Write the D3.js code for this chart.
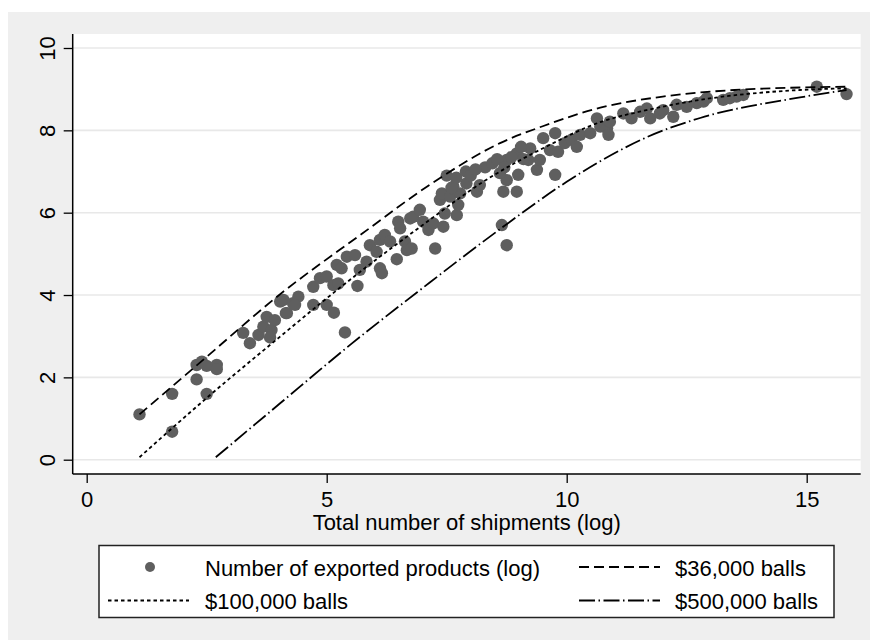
<!DOCTYPE html>
<html>
<head>
<meta charset="utf-8">
<script src="https://cdn.jsdelivr.net/npm/d3@7"></script>
<style>
  body { margin: 0; background: #fff; }
  text { font-family: "Liberation Sans", Arial, sans-serif; fill: #000; }
</style>
</head>
<body>
<div id="chart"></div>
<script>
var width = 870,
	height = 640;

// scatter: total shipments (log) vs exported products (log)
var shipments = [1.1, 1.78, 1.78, 2.29, 2.29, 2.4, 2.5, 2.5, 2.71, 2.71,
	3.26, 3.4, 3.58, 3.68, 3.75, 3.85, 3.82, 3.92, 4.1, 4.15, 4.3, 4.41,
	4.03, 4.17, 4.34, 4.72, 4.86, 5.0, 5.14, 5.24, 4.72, 5.0, 5.15, 5.38,
	5.21, 5.31, 5.42, 5.59, 5.69, 5.64, 5.83, 5.9, 6.11, 6.21, 6.11, 6.15,
	6.04, 6.32, 6.46, 6.49, 6.53, 6.63, 6.67, 6.77, 6.74, 6.8, 6.94, 7.01,
	7.12, 7.22, 7.26, 7.36, 7.4, 7.46, 7.43, 7.57, 7.71, 7.74, 7.78, 7.64,
	7.91, 8.13, 8.19, 8.68, 8.96, 8.65, 8.75, 8.75, 8.61, 8.99, 8.75, 8.96,
	9.24, 9.2, 9.38, 9.44, 9.51, 9.76, 9.65, 9.82, 9.76, 9.96, 10.1, 10.21,
	10.28, 10.49, 10.63, 10.7, 10.84, 10.87, 10.9, 11.18, 11.35, 11.53, 11.67,
	11.74, 11.94, 12.01, 12.22, 12.29, 12.5, 12.71, 12.85, 12.92, 13.26, 13.4,
	13.54, 13.68, 15.21, 15.83,
	8.3, 8.45, 8.55, 8.7, 8.85, 9.05, 9.1, 7.5, 7.7, 7.9, 8.0, 8.1, 7.6];
var products = [1.1, 1.6, 0.68, 2.3, 1.95, 2.38, 2.28, 1.6, 2.3, 2.2,
	3.08, 2.83, 3.03, 3.23, 3.47, 3.15, 2.97, 3.39, 3.88, 3.56, 3.8, 3.96,
	3.84, 3.56, 3.76, 4.2, 4.41, 4.45, 4.24, 4.28, 3.76, 3.76, 3.57, 3.09,
	4.73, 4.65, 4.93, 4.97, 4.61, 4.22, 4.81, 5.21, 5.34, 5.46, 4.65, 4.53,
	5.05, 5.3, 4.87, 5.78, 5.62, 5.3, 5.09, 5.13, 5.86, 5.9, 6.07, 5.78,
	5.58, 5.74, 5.13, 6.31, 6.47, 5.98, 5.66, 6.39, 5.94, 6.19, 6.47, 6.63,
	6.71, 6.51, 6.67, 6.51, 6.51, 5.7, 5.21, 6.79, 6.96, 6.92, 7.28, 7.44,
	7.56, 7.28, 7.04, 7.28, 7.81, 7.93, 7.52, 7.48, 6.92, 7.69, 7.77, 7.6,
	7.89, 7.93, 8.29, 8.09, 8.05, 7.89, 8.21, 8.41, 8.29, 8.45, 8.53,
	8.29, 8.41, 8.49, 8.33, 8.62, 8.57, 8.66, 8.7, 8.78, 8.74, 8.78,
	8.82, 8.86, 9.06, 8.88,
	7.1, 7.2, 7.3, 7.1, 7.35, 7.6, 7.3, 6.9, 6.85, 7.0, 6.9, 7.05, 6.6];

// simulated curves
var balls36k = [[1.1, 1.1], [2.5, 2.5], [4.03, 4.02], [5.69, 5.45], [7.29, 6.79],
	[8.61, 7.69], [9.5, 8.1], [10.7, 8.55], [12.0, 8.82], [13.5, 8.98], [15.87, 9.06]];
var balls100k = [[1.1, 0.06], [2.5, 1.5], [4.03, 2.99], [5.0, 3.92], [5.76, 4.62],
	[7.0, 5.7], [8.26, 6.75], [9.6, 7.62], [10.7, 8.2], [11.7, 8.5], [12.78, 8.74],
	[14.86, 8.98], [15.83, 9.02]];
var balls500k = [[2.69, 0.06], [4.03, 1.37], [5.5, 2.8], [7.01, 4.18], [8.61, 5.6],
	[10.0, 6.75], [10.7, 7.25], [11.7, 7.85], [12.78, 8.3], [14.86, 8.8], [15.83, 8.98]];

var xTicks = [0, 5, 10, 15],
	yTicks = [0, 2, 4, 6, 8, 10];

var legendRows = [
	{ label: 'Number of exported products (log)', type: 'dot' },
	{ label: '$36,000 balls', dash: '10,5' },
	{ label: '$100,000 balls', dash: '3.5,3' },
	{ label: '$500,000 balls', dash: '16,3.5,1.5,3.5' }
];

var svg = d3.select('#chart').append('svg')
	.attr('width', width)
	.attr('height', height);

// graph region
svg.append('rect')
	.attr('x', 8).attr('y', 12)
	.attr('width', width - 8).attr('height', height - 12)
	.attr('fill', '#efefef');

var plot = { left: 72.7, right: 860.7, top: 34, bottom: 474 };

svg.append('rect')
	.attr('x', plot.left).attr('y', plot.top)
	.attr('width', plot.right - plot.left).attr('height', plot.bottom - plot.top)
	.attr('fill', '#fff');

var x = d3.scaleLinear().domain([0, 15]).range([86.7, 806.7]);
var y = d3.scaleLinear().domain([0, 10]).range([459.7, 48]);

// grid
svg.append('g').selectAll('line')
	.data(yTicks)
	.enter().append('line')
	.attr('x1', plot.left).attr('x2', plot.right)
	.attr('y1', function(d) { return y(d); })
	.attr('y2', function(d) { return y(d); })
	.attr('stroke', '#e8e8e8')
	.attr('stroke-width', 1.6);

// axes
var yAxis = svg.append('g')
	.attr('transform', 'translate(' + plot.left + ',0)')
	.call(d3.axisLeft(y).tickValues(yTicks).tickSize(9).tickPadding(0).tickFormat(d3.format('d')));
yAxis.select('.domain').remove();
yAxis.selectAll('text').remove();
yAxis.selectAll('.tick line').attr('stroke', '#000').attr('stroke-width', 1.3);

yAxis.selectAll('.tick').append('text')
	.attr('transform', 'translate(-18,0) rotate(-90)')
	.attr('text-anchor', 'middle')
	.style('font-size', '22px')
	.text(function(d) { return d; });

var xAxis = svg.append('g')
	.attr('transform', 'translate(0,' + plot.bottom + ')')
	.call(d3.axisBottom(x).tickValues(xTicks).tickSize(9).tickPadding(0).tickFormat(d3.format('d')));
xAxis.select('.domain').remove();
xAxis.selectAll('text').remove();
xAxis.selectAll('.tick line').attr('stroke', '#000').attr('stroke-width', 1.3);
xAxis.selectAll('.tick').append('text')
	.attr('y', 33)
	.attr('text-anchor', 'middle')
	.style('font-size', '22px')
	.text(function(d) { return d; });

svg.append('line')
	.attr('x1', plot.left).attr('x2', plot.left)
	.attr('y1', plot.top).attr('y2', plot.bottom)
	.attr('stroke', '#000').attr('stroke-width', 1.5);
svg.append('line')
	.attr('x1', plot.left).attr('x2', plot.right)
	.attr('y1', plot.bottom).attr('y2', plot.bottom)
	.attr('stroke', '#000').attr('stroke-width', 1.5);

svg.append('text')
	.attr('x', (plot.left + plot.right) / 2)
	.attr('y', 530)
	.attr('text-anchor', 'middle')
	.style('font-size', '22px')
	.text('Total number of shipments (log)');

// dots
var pts = shipments.map(function(d, i) { return [d, products[i]]; });
svg.append('g').selectAll('circle')
	.data(pts)
	.enter().append('circle')
	.attr('cx', function(d) { return x(d[0]); })
	.attr('cy', function(d) { return y(d[1]); })
	.attr('r', 6.2)
	.attr('fill', '#5f5f5f');

// curves
var line = d3.line()
	.x(function(d) { return x(d[0]); })
	.y(function(d) { return y(d[1]); })
	.curve(d3.curveMonotoneX);

var curves = [
	{ data: balls36k, dash: legendRows[1].dash },
	{ data: balls100k, dash: legendRows[2].dash },
	{ data: balls500k, dash: legendRows[3].dash }
];
svg.append('g').selectAll('path')
	.data(curves)
	.enter().append('path')
	.attr('d', function(d) { return line(d.data); })
	.attr('fill', 'none')
	.attr('stroke', '#000')
	.attr('stroke-width', 1.8)
	.attr('stroke-dasharray', function(d) { return d.dash; });

// legend
var lg = svg.append('g');
lg.append('rect')
	.attr('x', 99).attr('y', 545.5)
	.attr('width', 735).attr('height', 72)
	.attr('fill', '#fff')
	.attr('stroke', '#222')
	.attr('stroke-width', 1.5);

var cols = [{ sx: 108, tx: 205 }, { sx: 579, tx: 675 }];
legendRows.forEach(function(r, i) {
	var c = cols[i % 2],
		row = Math.floor(i / 2),
		cy = 567 + row * 33.5;
	if (r.type === 'dot') {
		lg.append('circle').attr('cx', 150).attr('cy', cy).attr('r', 5).attr('fill', '#5f5f5f');
	} else {
		lg.append('line')
			.attr('x1', c.sx).attr('x2', c.sx + 81)
			.attr('y1', cy).attr('y2', cy)
			.attr('stroke', '#000').attr('stroke-width', 1.8)
			.attr('stroke-dasharray', r.dash);
	}
	lg.append('text')
		.attr('x', c.tx)
		.attr('y', cy + 8.5)
		.style('font-size', '22px')
		.text(r.label);
});
</script>
</body>
</html>
